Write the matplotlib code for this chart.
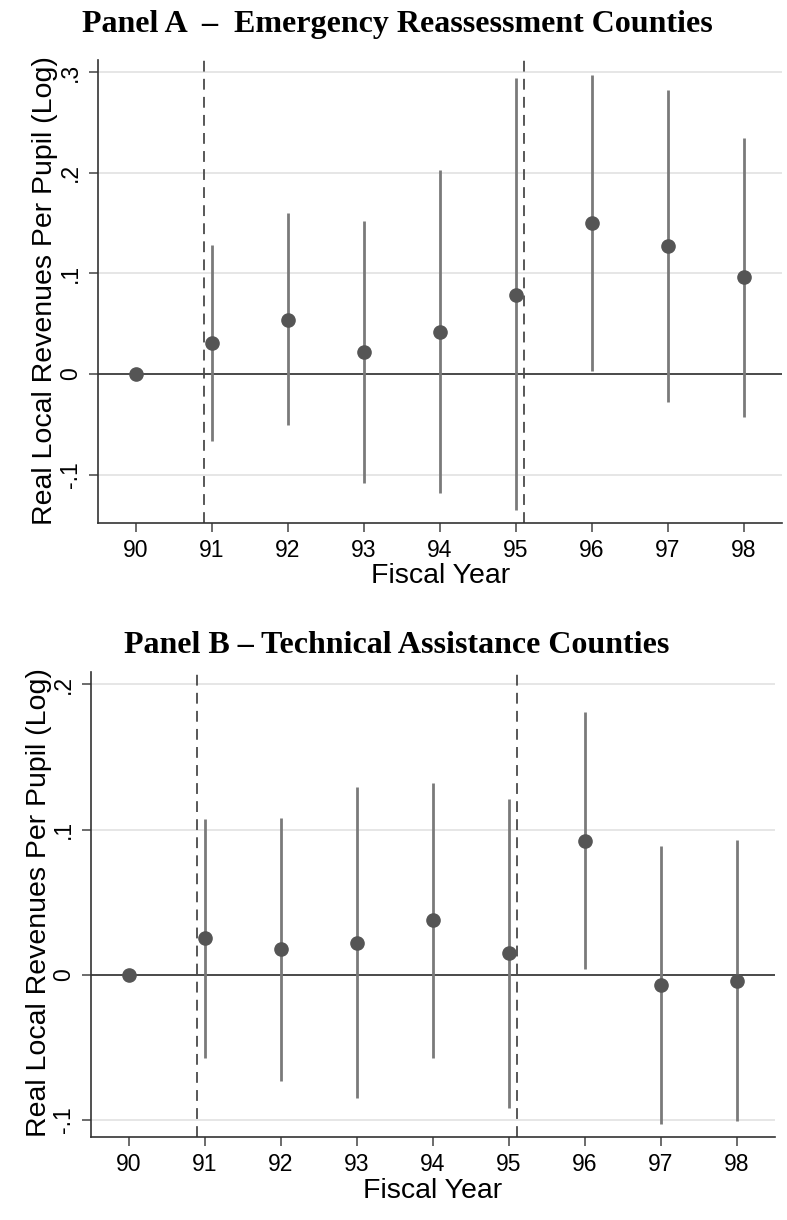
import matplotlib
matplotlib.use("Agg")
import matplotlib.pyplot as plt
import numpy as np

# Event-study estimates
years = [90, 91, 92, 93, 94, 95, 96, 97, 98]

a_coef = [0.0, 0.031, 0.054, 0.022, 0.042, 0.079, 0.150, 0.127, 0.096]
a_low = [np.nan, -0.067, -0.051, -0.108, -0.118, -0.135, 0.003, -0.028, -0.043]
a_high = [np.nan, 0.128, 0.160, 0.152, 0.203, 0.294, 0.297, 0.282, 0.235]

b_coef = [0.0, 0.0255, 0.0176, 0.022, 0.038, 0.015, 0.0924, -0.007, -0.004]
b_low = [np.nan, -0.057, -0.073, -0.085, -0.057, -0.092, 0.004, -0.1026, -0.1005]
b_high = [np.nan, 0.107, 0.108, 0.129, 0.132, 0.121, 0.181, 0.0885, 0.093]

a_ticks = [-0.1, 0, 0.1, 0.2, 0.3]
a_ticklabels = ["-.1", "0", ".1", ".2", ".3"]
b_ticks = [-0.1, 0, 0.1, 0.2]
b_ticklabels = ["-.1", "0", ".1", ".2"]

event_lines = [90.9, 95.1]

W, H = 787, 1220
fig = plt.figure(figsize=(W / 100, H / 100), dpi=100)

SANS = "Liberation Sans"
SERIF = "Liberation Serif"


def px_axes(left, top, right, bottom):
    return fig.add_axes([left / W, 1 - bottom / H, (right - left) / W, (bottom - top) / H])


def draw_panel(ax, coef, low, high, ticks, ticklabels, ylim):
    for t in ticks:
        if t != 0:
            ax.axhline(t, color="#e6e6e6", lw=1.4, zorder=0)
    ax.axhline(0, color="#3a3a3a", lw=1.3, zorder=1)
    for x in event_lines:
        ax.axvline(x, color="#4a4a4a", lw=1.3, ls=(0, (6, 4)), zorder=2)
    ax.vlines(years, low, high, color="#7a7a7a", lw=2.0, zorder=3)
    ax.plot(years, coef, "o", color="#555555", ms=9.5, mec="#555555", zorder=4)

    ax.set_xlim(89.5, 98.5)
    ax.set_ylim(*ylim)
    ax.set_xticks(years)
    ax.set_xticklabels([str(y) for y in years], fontsize=16.5, family=SANS)
    ax.set_yticks(ticks)
    ax.set_yticklabels(ticklabels, fontsize=16.5, family=SANS, rotation=90, va="center")
    ax.tick_params(axis="both", direction="out", length=6.5, width=1.1, color="#444444", pad=5)
    for s in ["top", "right"]:
        ax.spines[s].set_visible(False)
    for s in ["left", "bottom"]:
        ax.spines[s].set_color("#333333")
        ax.spines[s].set_linewidth(1.2)


ax_a = px_axes(98, 60, 782, 523)
draw_panel(ax_a, a_coef, a_low, a_high, a_ticks, a_ticklabels, (-0.148, 0.312))

ax_b = px_axes(91, 672, 775, 1137)
draw_panel(ax_b, b_coef, b_low, b_high, b_ticks, b_ticklabels, (-0.1117, 0.2085))

ylab = "Real Local Revenues Per Pupil (Log)"
fig.text(45 / W, 1 - 291 / H, ylab, rotation=90, ha="center", va="center", fontsize=20.5, family=SANS)
fig.text(39 / W, 1 - 903 / H, ylab, rotation=90, ha="center", va="center", fontsize=20.5, family=SANS)
fig.text(441 / W, 1 - 583 / H, "Fiscal Year", ha="center", va="baseline", fontsize=20.5, family=SANS)
fig.text(433 / W, 1 - 1198 / H, "Fiscal Year", ha="center", va="baseline", fontsize=20.5, family=SANS)

fig.text(397 / W, 1 - 32 / H, "Panel A  \u2013  Emergency Reassessment Counties",
         ha="center", va="baseline", fontsize=23, fontweight="bold", family=SERIF)
fig.text(397 / W, 1 - 653 / H, "Panel B \u2013 Technical Assistance Counties",
         ha="center", va="baseline", fontsize=23, fontweight="bold", family=SERIF)

fig.savefig("out.png", dpi=100)
